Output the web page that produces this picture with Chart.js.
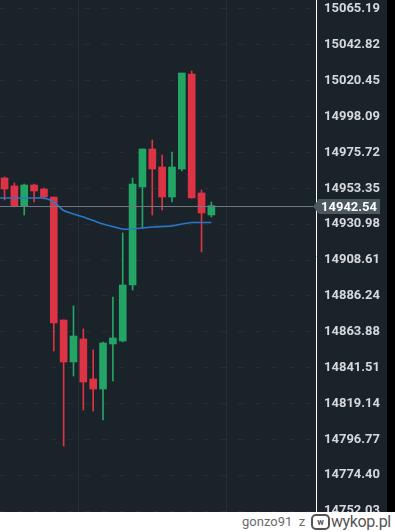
<!DOCTYPE html>
<html>
<head>
<meta charset="utf-8">
<script src="https://cdn.jsdelivr.net/npm/chart.js@4.4.1/dist/chart.umd.min.js"></script>
<style>
    html, body { margin: 0; padding: 0; background: #fff; }
    #wrap { width: 395px; height: 512px; background: #000; position: relative; }
    #priceChart { display: block; }
    .footer {
        height: 20px; width: 395px; position: relative; overflow: hidden;
        font-family: Roboto, "Noto Sans", sans-serif; color: #6b6b6b;
    }
    .footer .user { position: absolute; left: 242px; top: 2px; font-size: 13px; }
    .footer .logo {
        position: absolute; left: 311px; top: 2px; width: 19px; height: 16px;
        border: 2px solid #555; border-radius: 5px; box-sizing: border-box;
        font-size: 9px; font-weight: bold; text-align: center; line-height: 12px; color: #555;
    }
    .footer .site { position: absolute; left: 331px; top: 0px; font-size: 16px; color: #555; letter-spacing: -0.4px; }
</style>
</head>
<body>
<div id="wrap"><canvas id="priceChart" width="387" height="512"></canvas></div>
<div class="footer">
    <span class="user">gonzo91&nbsp;&nbsp;z</span>
    <span class="logo">w</span>
    <span class="site">wykop.pl</span>
</div>
<script>
// candles, oldest first
const opens  = [14959.78, 14954.79, 14942.31, 14955.41, 14952.91, 14947.92, 14871.20, 14845.01, 14859.35, 14834.40, 14828.16,
                14856.23, 14858.10, 14893.03, 14954.16, 14977.86, 14966.64, 14947.92, 14965.39, 15024.65, 14950.42, 14936.70];
const highs  = [14960.40, 14956.66, 14956.03, 14956.03, 14953.54, 14947.92, 14871.20, 14879.94, 14865.59, 14852.49, 14857.48,
                14885.55, 14925.47, 14959.78, 14977.86, 14983.48, 14974.12, 14975.99, 15025.27, 15026.52, 14952.29, 14944.81];
const lows   = [14946.05, 14941.70, 14936.70, 14944.81, 14946.68, 14851.87, 14792.61, 14836.27, 14815.07, 14814.44, 14808.83,
                14833.15, 14857.48, 14889.92, 14928.59, 14936.70, 14939.82, 14944.81, 14964.14, 14947.30, 14913.62, 14935.45];
const closes = [14952.91, 14942.31, 14955.41, 14951.67, 14947.92, 14869.33, 14845.01, 14861.22, 14832.53, 14828.16, 14856.86,
                14859.98, 14893.03, 14956.03, 14977.86, 14965.39, 14947.92, 14966.64, 15025.27, 14947.30, 14937.94, 14942.54];
// moving average, first value belongs to the candle just left of the view
const maValues = [14947.30, 14947.30, 14947.30, 14947.30, 14947.30, 14947.30, 14944.81, 14939.50, 14937.32, 14935.45, 14933.27,
                  14931.08, 14929.52, 14927.96, 14927.96, 14928.59, 14929.21, 14929.52, 14929.84, 14931.08, 14932.02, 14932.02, 14932.02];
const yTicks = [15065.19, 15042.82, 15020.45, 14998.09, 14975.72, 14953.35, 14930.98, 14908.61,
                14886.24, 14863.88, 14841.51, 14819.14, 14796.77, 14774.40, 14752.03];
const xGridTicks = [0, 15];
const lastPrice = 14942.54;

const UP = '#23a566';
const DOWN = '#dc3445';
const BG = '#1a2329';

const candleColors = opens.map((o, i) => closes[i] >= o ? UP : DOWN);

const bgPlugin = {
    id: 'bg',
    beforeDraw(chart) {
        const ctx = chart.ctx;
        ctx.save();
        ctx.fillStyle = BG;
        ctx.fillRect(0, 0, chart.width, chart.height);
        ctx.restore();
    }
};

const lastPricePlugin = {
    id: 'lastPrice',
    afterDatasetsDraw(chart) {
        const ctx = chart.ctx;
        const area = chart.chartArea;
        const y = Math.round(chart.scales.y.getPixelForValue(lastPrice)) + 0.5;
        ctx.save();
        ctx.strokeStyle = '#6f787e';
        ctx.lineWidth = 1;
        ctx.beginPath();
        ctx.moveTo(area.left, y);
        ctx.lineTo(area.right - 3, y);
        ctx.stroke();

        const x0 = area.right - 3;
        ctx.fillStyle = '#4c5860';
        ctx.beginPath();
        ctx.moveTo(x0, y);
        ctx.lineTo(x0 + 6, y - 7.5);
        ctx.lineTo(x0 + 67, y - 7.5);
        ctx.lineTo(x0 + 67, y + 7.5);
        ctx.lineTo(x0 + 6, y + 7.5);
        ctx.closePath();
        ctx.fill();

        ctx.fillStyle = '#ffffff';
        ctx.font = 'bold 13px Roboto';
        ctx.textBaseline = 'middle';
        ctx.fillText(lastPrice.toFixed(2), x0 + 8, y + 1);
        ctx.restore();
    }
};

const ctxPrice = document.getElementById('priceChart').getContext('2d');
new Chart(ctxPrice, {
    data: {
        datasets: [
            {
                type: 'line',
                data: maValues.map((v, i) => ({ x: i - 1, y: v })),
                borderColor: '#2a78c8',
                borderWidth: 1.6,
                pointRadius: 0,
                tension: 0.2,
                order: 0
            },
            {
                type: 'bar',
                data: highs.map((h, i) => ({ x: i, y: [lows[i], h] })),
                backgroundColor: candleColors,
                barThickness: 1,
                grouped: false,
                order: 2
            },
            {
                type: 'bar',
                data: opens.map((o, i) => ({ x: i, y: [o, closes[i]] })),
                backgroundColor: candleColors,
                barThickness: 7,
                grouped: false,
                order: 1
            }
        ]
    },
    options: {
        responsive: false,
        animation: false,
        layout: { padding: 0 },
        plugins: { legend: { display: false }, tooltip: { enabled: false } },
        scales: {
            x: {
                type: 'linear',
                min: -0.46,
                max: 31.62,
                offset: false,
                afterBuildTicks: (scale) => { scale.ticks = xGridTicks.map(v => ({ value: v })); },
                afterFit: (scale) => {
                    scale.height = 0;
                    scale.paddingLeft = 0;
                    scale.paddingRight = 0;
                },
                ticks: { display: false },
                border: { display: false },
                grid: { color: 'rgba(255,255,255,0.06)', drawTicks: false }
            },
            y: {
                position: 'right',
                min: 14751.44,
                max: 15070.8,
                afterBuildTicks: (scale) => { scale.ticks = yTicks.map(v => ({ value: v })); },
                afterFit: (scale) => {
                    scale.width = 71;
                    scale.paddingTop = 0;
                    scale.paddingBottom = 0;
                },
                ticks: {
                    color: '#d5d9dc',
                    padding: 8,
                    font: { family: 'Roboto', size: 13, weight: 'bold' },
                    callback: (v) => Number(v).toFixed(2)
                },
                border: { display: true, color: '#ffffff', width: 1, dash: [5, 12] },
                grid: { color: 'rgba(255,255,255,0.06)', drawTicks: false }
            }
        }
    },
    plugins: [bgPlugin, lastPricePlugin]
});
</script>
</body>
</html>
